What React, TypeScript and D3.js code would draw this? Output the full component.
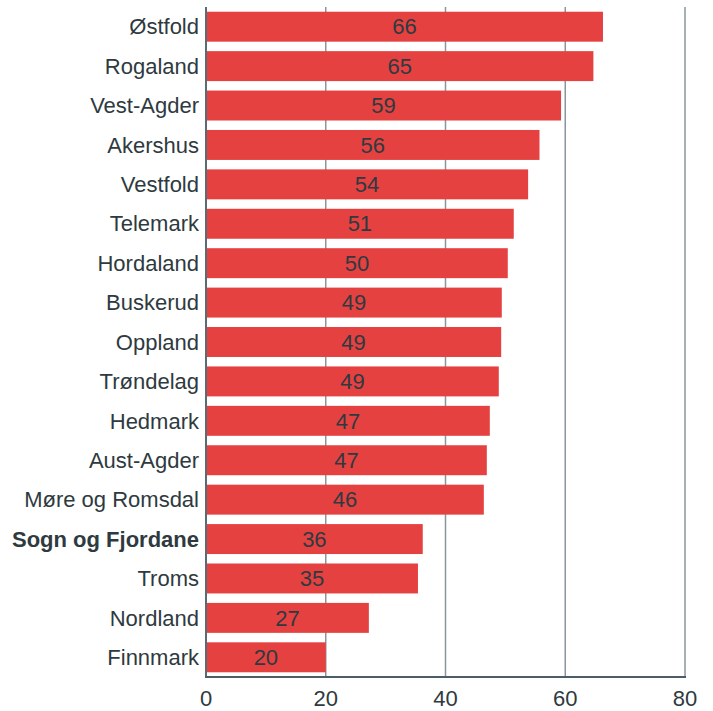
import React from 'react';
import * as d3 from 'd3';

const counties = [
  'Østfold', 'Rogaland', 'Vest-Agder', 'Akershus', 'Vestfold', 'Telemark', 'Hordaland',
  'Buskerud', 'Oppland', 'Trøndelag', 'Hedmark', 'Aust-Agder', 'Møre og Romsdal',
  'Sogn og Fjordane', 'Troms', 'Nordland', 'Finnmark',
];
const values = [66.3, 64.7, 59.3, 55.7, 53.8, 51.4, 50.4, 49.4, 49.3, 48.9, 47.4, 46.9, 46.4, 36.2, 35.4, 27.2, 20.0];
const xTicks = [0, 20, 40, 60, 80];
const highlight = 'Sogn og Fjordane';

const W = 713;
const H = 711;
const margin = { top: 7, right: 28, bottom: 34, left: 206 };
const font = "'Liberation Sans', Arial, sans-serif";
const textColor = '#2e3a40';
const fs = 22;

export default function App() {
  const x = d3.scaleLinear().domain([0, 80]).range([margin.left, W - margin.right]);
  const y = d3
    .scaleBand<string>()
    .domain(counties)
    .range([margin.top, H - margin.bottom])
    .paddingInner(0.24)
    .paddingOuter(0.12);
  const bottom = H - margin.bottom;

  return (
    <svg width={W} height={H} style={{ position: 'absolute', left: 0, top: 0 }} fontFamily={font}>
      {xTicks.slice(1).map((t) => (
        <line key={t} x1={x(t)} x2={x(t)} y1={margin.top} y2={bottom} stroke="#8a969d" strokeWidth={1.5} />
      ))}
      {counties.map((c, i) => (
        <g key={c}>
          <rect x={x(0)} y={y(c)} width={x(values[i]) - x(0)} height={y.bandwidth()} fill="#e54141" />
          <text
            x={(x(0) + x(values[i])) / 2}
            y={(y(c) ?? 0) + y.bandwidth() / 2}
            dy="0.35em"
            textAnchor="middle"
            fontSize={fs}
            fill={textColor}
          >
            {d3.format('.0f')(values[i])}
          </text>
          <text
            x={x(0) - 7}
            y={(y(c) ?? 0) + y.bandwidth() / 2}
            dy="0.35em"
            textAnchor="end"
            fontSize={fs}
            fontWeight={c === highlight ? 'bold' : 'normal'}
            fill={textColor}
          >
            {c}
          </text>
        </g>
      ))}
      <line x1={x(0)} x2={x(0)} y1={margin.top} y2={bottom} stroke="#5b6b74" strokeWidth={2} />
      <line x1={x(0) - 1} x2={x(80) + 1} y1={bottom} y2={bottom} stroke="#4d5d66" strokeWidth={2} />
      {xTicks.map((t) => (
        <text key={t} x={x(t)} y={bottom + 21} dy="0.35em" textAnchor="middle" fontSize={fs} fill={textColor}>
          {t}
        </text>
      ))}
    </svg>
  );
}
